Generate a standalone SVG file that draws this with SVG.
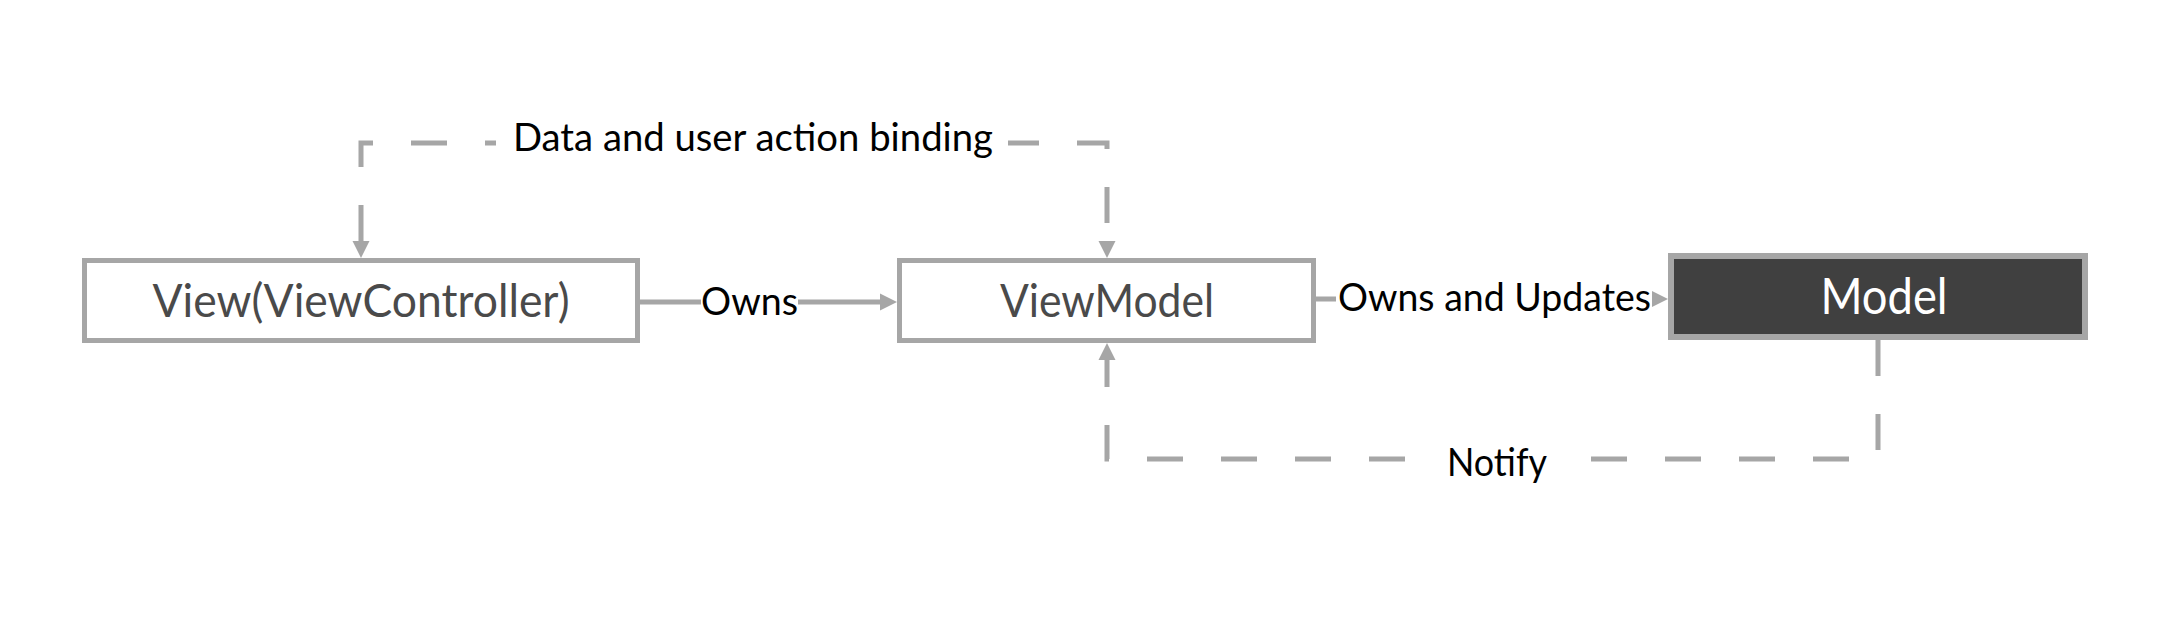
<svg xmlns="http://www.w3.org/2000/svg" width="2168" height="630" viewBox="0 0 2168 630">
<style>
.box{fill:#ffffff;stroke:#a6a6a6;stroke-width:5}
.dark{fill:#404040;stroke:#a6a6a6;stroke-width:6}
.btxt{font-family:Lato,"Open Sans",sans-serif;font-size:47px;fill:#4a4a4a;text-anchor:middle}
.mtxt{font-family:Lato,"Open Sans",sans-serif;font-size:50px;fill:#ffffff;text-anchor:middle}
.lbl{font-family:Lato,"Open Sans",sans-serif;font-size:39px;fill:#000000}
.solid{fill:none;stroke:#a6a6a6;stroke-width:5}
.dash{fill:none;stroke:#a6a6a6;stroke-width:5;stroke-dasharray:36 38}
.bg{fill:#ffffff}
</style>
<defs>
<marker id="arr" viewBox="0 0 10 10" refX="0" refY="5" markerUnits="userSpaceOnUse" markerWidth="17" markerHeight="18" orient="auto-start-reverse">
<path d="M0,0 L10,5 L0,10 z" fill="#a6a6a6"/>
</marker>
</defs>
<rect width="2168" height="630" fill="#ffffff"/>
<g id="connectors">
<path class="dash" d="M361,241 V143 H1107 V241" marker-start="url(#arr)" marker-end="url(#arr)"/>
<path class="dash" d="M1878,340 V459 H1107 V360" marker-end="url(#arr)"/>
<path class="solid" d="M640,302 H880" marker-end="url(#arr)"/>
<path class="solid" d="M1316,299 H1651" marker-end="url(#arr)"/>
<rect class="bg" x="496" y="116" width="512" height="52"/>
<text class="lbl" x="513" y="151" textLength="480" lengthAdjust="spacingAndGlyphs">Data and user action binding</text>
<rect class="bg" x="701" y="278" width="97" height="46"/>
<text class="lbl" x="701" y="315" textLength="97" lengthAdjust="spacingAndGlyphs">Owns</text>
<rect class="bg" x="1336" y="274" width="316" height="48"/>
<text class="lbl" x="1338" y="311" textLength="313" lengthAdjust="spacingAndGlyphs">Owns and Updates</text>
<rect class="bg" x="1436" y="436" width="122" height="50"/>
<text class="lbl" x="1447" y="476" textLength="100" lengthAdjust="spacingAndGlyphs">Notify</text>
</g>
<g id="view">
<rect class="box" x="84.5" y="260.5" width="553" height="80"/>
<text class="btxt" x="361" y="317" textLength="417" lengthAdjust="spacingAndGlyphs">View(ViewController)</text>
</g>
<g id="viewmodel">
<rect class="box" x="899.5" y="260.5" width="414" height="80"/>
<text class="btxt" x="1107" y="317" textLength="214" lengthAdjust="spacingAndGlyphs">ViewModel</text>
</g>
<g id="model">
<rect class="dark" x="1671" y="256" width="414" height="81"/>
<text class="mtxt" x="1884" y="314" textLength="127" lengthAdjust="spacingAndGlyphs">Model</text>
</g>
</svg>
